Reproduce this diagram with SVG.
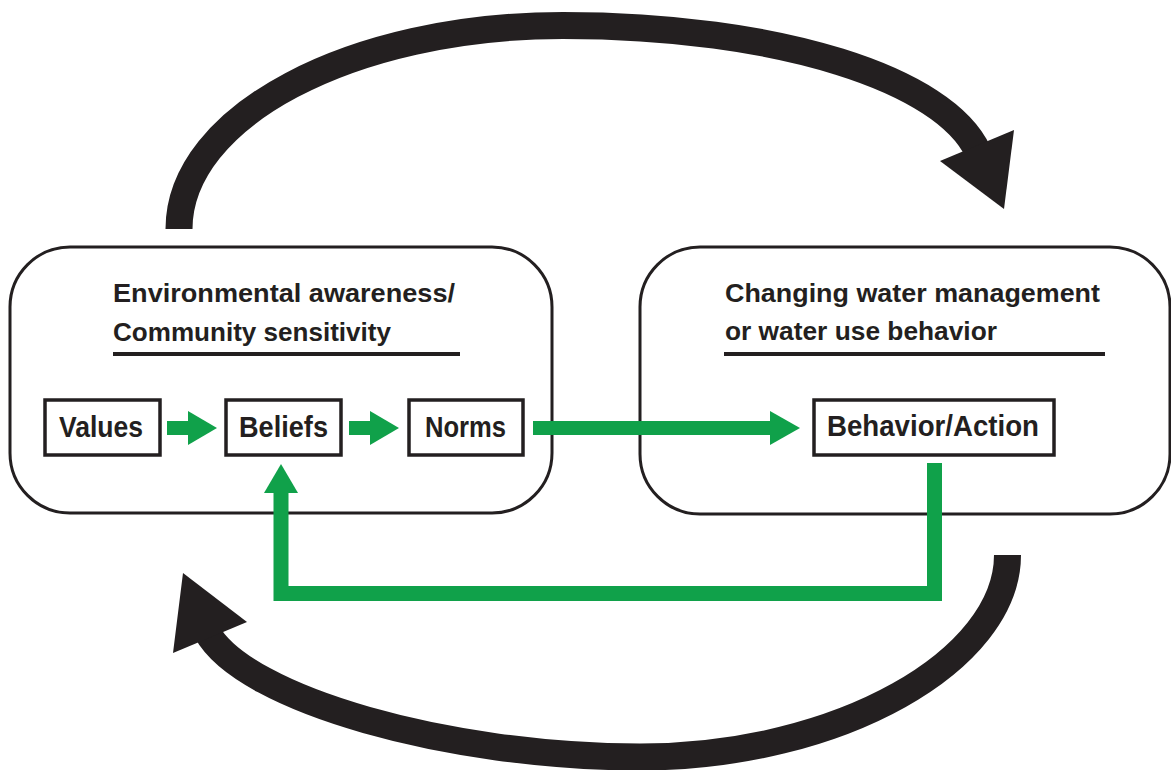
<svg xmlns="http://www.w3.org/2000/svg" width="1171" height="770" viewBox="0 0 1171 770">
  <style>
    .bg { fill: #ffffff; }
    .panel { fill: #ffffff; stroke: #231f20; stroke-width: 3; }
    .box { fill: #ffffff; stroke: #231f20; stroke-width: 3.5; }
    .title { font-family: "Liberation Sans", Arial, sans-serif; font-weight: bold; font-size: 26px; fill: #231f20; }
    .label { font-family: "Liberation Sans", Arial, sans-serif; font-weight: bold; font-size: 30px; fill: #231f20; }
    .rule { stroke: #231f20; stroke-width: 4; }
    .cycle { fill: none; stroke: #231f20; stroke-width: 27; stroke-linecap: butt; }
    .cyclehead { fill: #231f20; }
    .flow { fill: none; stroke: #10a14a; stroke-width: 14; stroke-linecap: butt; stroke-linejoin: miter; }
    .flowhead { fill: #10a14a; }
  </style>
  <rect class="bg" x="0" y="0" width="1171" height="770"/>

  <g id="panel-awareness">
    <rect class="panel" x="10" y="247" width="542" height="266" rx="60" ry="60"/>
    <text class="title" x="113" y="302" textLength="342" lengthAdjust="spacingAndGlyphs">Environmental awareness/</text>
    <text class="title" x="113" y="341" textLength="278" lengthAdjust="spacingAndGlyphs">Community sensitivity</text>
    <line class="rule" x1="113" y1="354" x2="460" y2="354"/>
  </g>

  <g id="panel-behavior">
    <rect class="panel" x="640" y="247" width="530" height="267" rx="60" ry="60"/>
    <text class="title" x="725" y="302" textLength="375" lengthAdjust="spacingAndGlyphs">Changing water management</text>
    <text class="title" x="725" y="340" textLength="272" lengthAdjust="spacingAndGlyphs">or water use behavior</text>
    <line class="rule" x1="724" y1="354" x2="1105" y2="354"/>
  </g>

  <g id="node-values">
    <rect class="box" x="45" y="400" width="115" height="55"/>
    <text class="label" x="59" y="437" textLength="84" lengthAdjust="spacingAndGlyphs">Values</text>
  </g>
  <g id="node-beliefs">
    <rect class="box" x="226" y="400" width="115" height="55"/>
    <text class="label" x="239" y="437" textLength="89" lengthAdjust="spacingAndGlyphs">Beliefs</text>
  </g>
  <g id="node-norms">
    <rect class="box" x="409" y="400" width="114" height="55"/>
    <text class="label" x="425" y="437" textLength="81" lengthAdjust="spacingAndGlyphs">Norms</text>
  </g>
  <g id="node-behavior-action">
    <rect class="box" x="814" y="400" width="240" height="55"/>
    <text class="label" x="827" y="436" textLength="212" lengthAdjust="spacingAndGlyphs">Behavior/Action</text>
  </g>

  <g id="connectors">
    <!-- black cycle arrows -->
    <path class="cycle" d="M179,229 C179,116.6 350.9,25.5 563,25.5 C780,25.5 945,80 978,152"/>
    <polygon class="cyclehead" points="1004,209 940,161 1014,130"/>
    <path class="cycle" d="M1007.5,555 C1007.5,660 840,757 640,757 C450,757 245,700 207,632"/>
    <polygon class="cyclehead" points="183,573 247,622 173,653"/>

    <!-- green flow arrows -->
    <line class="flow" x1="167" y1="428" x2="190" y2="428"/>
    <polygon class="flowhead" points="188,411 217,428 188,445"/>
    <line class="flow" x1="349" y1="428" x2="372" y2="428"/>
    <polygon class="flowhead" points="370,411 399,428 370,445"/>
    <line class="flow" x1="533" y1="428" x2="772" y2="428"/>
    <polygon class="flowhead" points="770,411 800,428 770,445"/>

    <!-- feedback loop -->
    <path class="flow" d="M934.5,463 L934.5,593.5 L281,593.5 L281,491" style="stroke-width:15"/>
    <polygon class="flowhead" points="264,493 281,464 298,493"/>
  </g>
</svg>
